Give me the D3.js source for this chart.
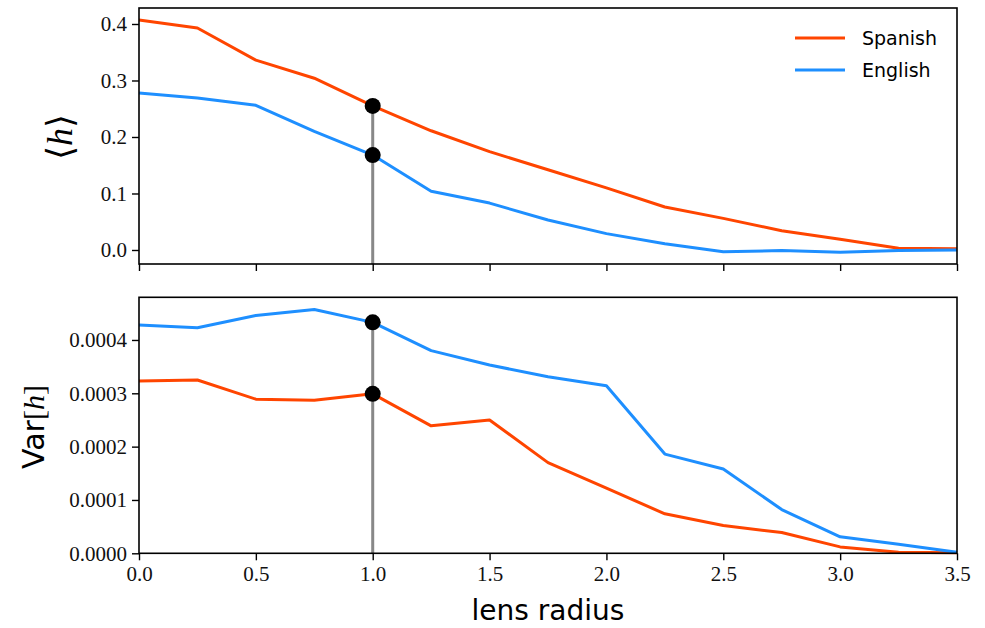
<!DOCTYPE html>
<html>
<head>
<meta charset="utf-8">
<script src="https://cdn.jsdelivr.net/npm/d3@7"></script>
<style>
  body { margin: 0; background: #fff; }
</style>
</head>
<body>
<div id="chart"></div>
<script>
// lens radius values shared by both panels
const radius = [0, 0.25, 0.5, 0.75, 1.0, 1.25, 1.5, 1.75, 2.0, 2.25, 2.5, 2.75, 3.0, 3.25, 3.5];

// mean <h>
const meanSpanish = [0.407, 0.393, 0.336, 0.304, 0.255, 0.211, 0.174, 0.142, 0.110, 0.076, 0.056, 0.034, 0.019, 0.003, 0.002];
const meanEnglish = [0.278, 0.269, 0.256, 0.210, 0.168, 0.104, 0.083, 0.053, 0.029, 0.011, -0.003, -0.001, -0.004, -0.001, 0.000];

// Var[h]
const varSpanish = [0.000323, 0.000325, 0.000289, 0.000287, 0.000299, 0.000239, 0.000250, 0.000170, 0.000122, 0.000074, 0.000052, 0.000039, 0.000012, 0.000002, 0.000001];
const varEnglish = [0.000428, 0.000423, 0.000446, 0.000457, 0.000433, 0.000380, 0.000353, 0.000331, 0.000314, 0.000186, 0.000158, 0.000082, 0.000031, 0.000017, 0.000002];

const xTicks = [0, 0.5, 1.0, 1.5, 2.0, 2.5, 3.0, 3.5];
const meanTicks = [0, 0.1, 0.2, 0.3, 0.4];
const varTicks = [0, 0.0001, 0.0002, 0.0003, 0.0004];
const markRadius = 1.0;

const colors = { Spanish: "#ff4500", English: "#1e8fff" };
const serif = "'Liberation Serif', 'DejaVu Serif', serif";
const sans = "'DejaVu Sans', sans-serif";

const W = 985, H = 628;
const left = 139, right = 957;

const svg = d3.select("#chart").append("svg")
    .attr("width", W)
    .attr("height", H);

const x = d3.scaleLinear().domain([0, 3.5]).range([left, right]);

const yTop = d3.scaleLinear().domain([-0.0248, 0.4283]).range([264, 8]);
const yBot = d3.scaleLinear().domain([0, 0.00048]).range([553.3, 297.3]);

function panel(y, seriesA, seriesB, ticks, fmt, showX, markerTopValue) {
    const g = svg.append("g");
    const y0 = y.range()[0], y1 = y.range()[1];

    // vertical marker line at radius 1.0
    const idx = radius.indexOf(markRadius);
    g.append("line")
        .attr("x1", x(markRadius)).attr("x2", x(markRadius))
        .attr("y1", y(markerTopValue)).attr("y2", y0)
        .style("stroke", "#888")
        .style("stroke-width", 3);

    const line = d3.line()
        .x((d, i) => x(radius[i]))
        .y(d => y(d));

    [[seriesA, colors.Spanish], [seriesB, colors.English]].forEach(([s, c]) => {
        g.append("path")
            .datum(s)
            .attr("d", line)
            .style("fill", "none")
            .style("stroke", c)
            .style("stroke-width", 3)
            .style("stroke-linejoin", "round");
    });

    [seriesA[idx], seriesB[idx]].forEach(v => {
        g.append("circle")
            .attr("cx", x(markRadius))
            .attr("cy", y(v))
            .attr("r", 8)
            .style("fill", "#000");
    });

    // frame
    g.append("rect")
        .attr("x", left).attr("y", y1)
        .attr("width", right - left).attr("height", y0 - y1)
        .style("fill", "none")
        .style("stroke", "#000")
        .style("stroke-width", 1.6);

    const xAxis = g.append("g")
        .attr("transform", "translate(0," + y0 + ")")
        .call(d3.axisBottom(x).tickValues(xTicks).tickSize(7).tickPadding(6)
            .tickFormat(showX ? d3.format(".1f") : () => ""));
    const yAxis = g.append("g")
        .attr("transform", "translate(" + left + ",0)")
        .call(d3.axisLeft(y).tickValues(ticks).tickSize(7).tickPadding(5).tickFormat(fmt));

    [xAxis, yAxis].forEach(a => {
        a.attr("font-family", null).attr("font-size", null);
        a.select(".domain").remove();
        a.selectAll(".tick line").style("stroke", "#000").style("stroke-width", 1.4);
        a.selectAll(".tick text")
            .style("font-family", serif)
            .style("font-size", "21px")
            .style("fill", "#111");
    });
    return g;
}

panel(yTop, meanSpanish, meanEnglish, meanTicks, d3.format(".1f"), false, meanSpanish[radius.indexOf(markRadius)]);
panel(yBot, varSpanish, varEnglish, varTicks, d3.format(".4f"), true, varEnglish[radius.indexOf(markRadius)]);

// y labels
svg.append("text")
    .attr("transform", "translate(72,137) rotate(-90)")
    .attr("text-anchor", "middle")
    .style("font-family", serif)
    .style("font-size", "36px")
    .html("⟨<tspan font-style='italic'>h</tspan>⟩");

svg.append("text")
    .attr("transform", "translate(44,427) rotate(-90)")
    .attr("text-anchor", "middle")
    .style("font-size", "30px")
    .html("<tspan style=\"font-family:'DejaVu Sans', sans-serif\">Var</tspan><tspan style=\"font-family:'Liberation Serif', serif\">[<tspan font-style='italic'>h</tspan>]</tspan>");

// x label
svg.append("text")
    .attr("x", (left + right) / 2)
    .attr("y", 620)
    .attr("text-anchor", "middle")
    .style("font-family", sans)
    .style("font-size", "28px")
    .text("lens radius");

// legend
const legend = [
    { name: "Spanish", y: 38 },
    { name: "English", y: 70 }
];
legend.forEach(d => {
    svg.append("line")
        .attr("x1", 795).attr("x2", 845)
        .attr("y1", d.y).attr("y2", d.y)
        .style("stroke", colors[d.name])
        .style("stroke-width", 3);
    svg.append("text")
        .attr("x", 862)
        .attr("y", d.y + 7)
        .style("font-family", sans)
        .style("font-size", "19px")
        .text(d.name);
});
</script>
</body>
</html>
